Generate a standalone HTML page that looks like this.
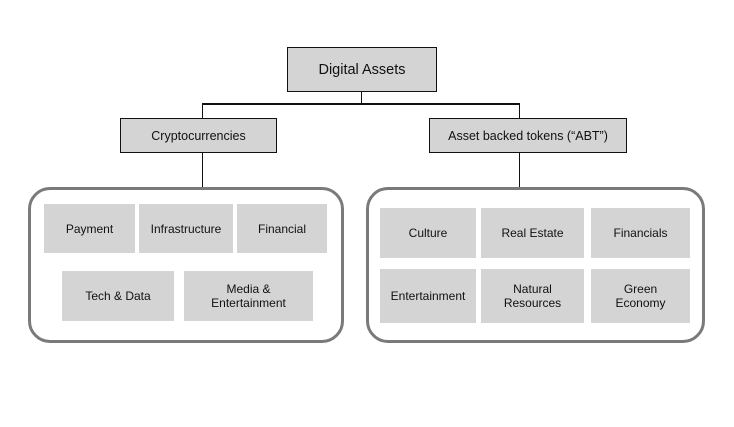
<!DOCTYPE html>
<html><head><meta charset="utf-8"><style>
body{margin:0;width:734px;height:427px;background:#fff;position:relative;overflow:hidden;font-family:"Liberation Sans",Arial,sans-serif;color:#111}
div{position:absolute;box-sizing:border-box}
.h{background:#d4d4d4;border:1.5px solid #111;display:flex;align-items:center;justify-content:center;font-size:12.5px}
.t{background:#d4d4d4;display:flex;align-items:center;justify-content:center;text-align:center;font-size:12px;line-height:14px}
.c{border:3px solid #7a7a7a;border-radius:22px;background:#fff}
.l{background:#111}
</style></head><body>
<div class="l" style="left:361px;top:91px;width:1px;height:13px"></div>
<div class="l" style="left:202px;top:103px;width:318px;height:1.5px"></div>
<div class="l" style="left:202px;top:103px;width:1px;height:15px"></div>
<div class="l" style="left:519px;top:103px;width:1px;height:15px"></div>
<div class="l" style="left:202px;top:152px;width:1px;height:36px"></div>
<div class="l" style="left:519px;top:152px;width:1px;height:36px"></div>
<div class="h" style="left:287px;top:47px;width:150px;height:45px;font-size:14.5px">Digital Assets</div>
<div class="h" style="left:120px;top:118px;width:157px;height:35px">Cryptocurrencies</div>
<div class="h" style="left:429px;top:118px;width:198px;height:35px">Asset backed tokens (“ABT”)</div>
<div class="c" style="left:28px;top:187px;width:316px;height:156px"></div>
<div class="c" style="left:366px;top:187px;width:339px;height:156px"></div>
<div class="t" style="left:44px;top:204px;width:91px;height:49px">Payment</div>
<div class="t" style="left:139px;top:204px;width:94px;height:49px">Infrastructure</div>
<div class="t" style="left:237px;top:204px;width:90px;height:49px">Financial</div>
<div class="t" style="left:62px;top:271px;width:112px;height:50px">Tech &amp; Data</div>
<div class="t" style="left:184px;top:271px;width:129px;height:50px">Media &amp;<br>Entertainment</div>
<div class="t" style="left:380px;top:208px;width:96px;height:50px">Culture</div>
<div class="t" style="left:481px;top:208px;width:103px;height:50px">Real Estate</div>
<div class="t" style="left:591px;top:208px;width:99px;height:50px">Financials</div>
<div class="t" style="left:380px;top:269px;width:96px;height:54px">Entertainment</div>
<div class="t" style="left:481px;top:269px;width:103px;height:54px">Natural<br>Resources</div>
<div class="t" style="left:591px;top:269px;width:99px;height:54px">Green<br>Economy</div>
</body></html>
